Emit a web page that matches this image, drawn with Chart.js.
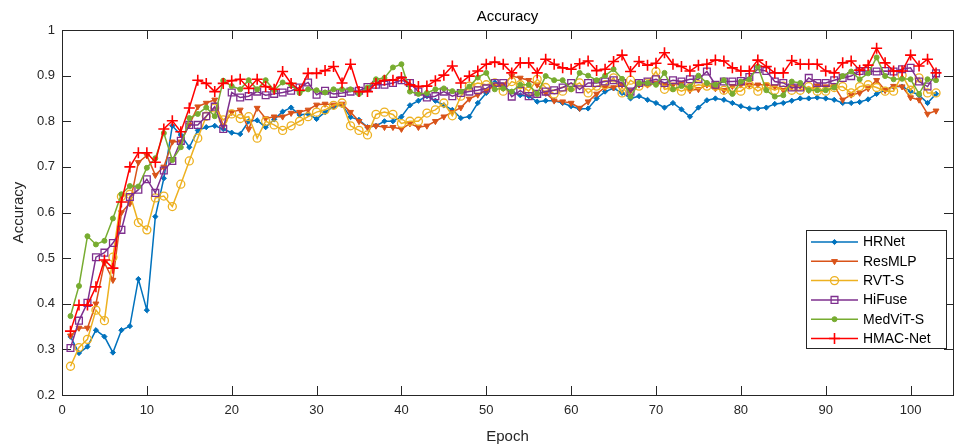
<!DOCTYPE html>
<html><head><meta charset="utf-8">
<script src="https://cdn.jsdelivr.net/npm/chart.js@4/dist/chart.umd.min.js"></script>
<style>html,body{margin:0;padding:0;background:#fff}#wrap{width:964px;height:445px}</style>
</head><body><div id="wrap"><canvas id="c" width="964" height="445"></canvas></div>
<script>
const seriesNames = ['HRNet','ResMLP','RVT-S','HiFuse','MedViT-S','HMAC-Net'];
const epochs = Array.from({length:103},(_, i)=>i+1);
const xTicks = [0,10,20,30,40,50,60,70,80,90,100];
const yTicks = [0.2,0.3,0.4,0.5,0.6,0.7,0.8,0.9,1];

const hrnet = [0.328,0.292,0.306,0.342,0.328,0.293,0.342,0.351,0.454,0.386,
0.591,0.675,0.790,0.770,0.743,0.780,0.787,0.790,0.783,0.775,
0.772,0.800,0.802,0.787,0.804,0.821,0.830,0.814,0.816,0.805,
0.820,0.832,0.836,0.809,0.803,0.787,0.790,0.800,0.800,0.810,
0.835,0.845,0.855,0.845,0.835,0.825,0.807,0.810,0.840,0.862,
0.885,0.875,0.865,0.857,0.855,0.843,0.845,0.845,0.840,0.833,
0.827,0.828,0.850,0.865,0.872,0.862,0.850,0.855,0.847,0.840,
0.830,0.840,0.826,0.810,0.830,0.846,0.850,0.847,0.840,0.833,
0.828,0.828,0.830,0.838,0.840,0.845,0.850,0.850,0.852,0.850,
0.847,0.840,0.840,0.842,0.848,0.860,0.868,0.876,0.876,0.866,
0.857,0.840,0.860];
const resmlp = [0.330,0.347,0.347,0.400,0.490,0.452,0.600,0.620,0.710,0.725,
0.682,0.700,0.755,0.755,0.792,0.832,0.840,0.847,0.790,0.820,
0.825,0.783,0.829,0.806,0.810,0.810,0.818,0.820,0.825,0.836,
0.838,0.836,0.838,0.820,0.800,0.787,0.790,0.787,0.787,0.783,
0.795,0.787,0.790,0.800,0.810,0.820,0.830,0.849,0.858,0.868,
0.877,0.880,0.899,0.895,0.890,0.880,0.862,0.845,0.843,0.840,
0.829,0.843,0.860,0.874,0.874,0.880,0.867,0.880,0.880,0.884,
0.880,0.880,0.884,0.868,0.870,0.880,0.872,0.868,0.877,0.880,
0.880,0.880,0.880,0.876,0.868,0.876,0.877,0.868,0.878,0.876,
0.877,0.847,0.858,0.862,0.872,0.890,0.868,0.877,0.876,0.852,
0.847,0.816,0.823];
const rvts = [0.263,0.304,0.322,0.386,0.363,0.502,0.635,0.640,0.578,0.562,
0.632,0.636,0.613,0.662,0.713,0.763,0.811,0.829,0.803,0.816,
0.806,0.810,0.763,0.800,0.792,0.780,0.790,0.800,0.810,0.820,
0.825,0.835,0.840,0.790,0.780,0.770,0.815,0.820,0.815,0.795,
0.800,0.800,0.818,0.825,0.840,0.812,0.855,0.877,0.884,0.880,
0.884,0.866,0.887,0.880,0.866,0.892,0.874,0.860,0.866,0.874,
0.884,0.862,0.877,0.880,0.895,0.862,0.890,0.877,0.884,0.909,
0.870,0.874,0.866,0.874,0.880,0.877,0.877,0.868,0.866,0.866,
0.880,0.866,0.876,0.868,0.877,0.868,0.868,0.876,0.866,0.866,
0.874,0.876,0.862,0.876,0.880,0.874,0.866,0.866,0.901,0.868,
0.895,0.862,0.862];
const hifuse = [0.303,0.363,0.402,0.502,0.512,0.533,0.562,0.634,0.650,0.673,
0.643,0.692,0.713,0.757,0.792,0.792,0.811,0.832,0.783,0.863,
0.852,0.855,0.865,0.857,0.860,0.863,0.867,0.874,0.885,0.858,
0.867,0.860,0.862,0.865,0.867,0.875,0.880,0.880,0.884,0.890,
0.884,0.865,0.852,0.855,0.865,0.855,0.862,0.865,0.868,0.872,
0.884,0.884,0.854,0.867,0.855,0.860,0.865,0.868,0.874,0.884,
0.870,0.884,0.884,0.887,0.890,0.884,0.865,0.884,0.887,0.892,
0.884,0.890,0.887,0.892,0.892,0.909,0.880,0.887,0.887,0.888,
0.897,0.914,0.910,0.887,0.884,0.874,0.874,0.895,0.884,0.884,
0.890,0.895,0.899,0.910,0.910,0.909,0.910,0.909,0.914,0.917,
0.887,0.876,0.905];
const medvit = [0.373,0.439,0.548,0.530,0.538,0.587,0.640,0.658,0.657,0.698,
0.719,0.774,0.715,0.743,0.807,0.816,0.830,0.811,0.889,0.877,
0.870,0.890,0.870,0.890,0.868,0.885,0.880,0.862,0.870,0.868,
0.863,0.870,0.870,0.870,0.860,0.874,0.892,0.895,0.918,0.925,
0.865,0.860,0.862,0.870,0.872,0.866,0.865,0.876,0.896,0.906,
0.870,0.872,0.865,0.880,0.880,0.860,0.899,0.890,0.890,0.870,
0.906,0.900,0.890,0.900,0.914,0.893,0.854,0.884,0.884,0.880,
0.906,0.870,0.877,0.875,0.900,0.884,0.880,0.890,0.860,0.887,
0.892,0.920,0.868,0.854,0.857,0.887,0.884,0.868,0.868,0.868,
0.874,0.899,0.909,0.892,0.905,0.940,0.899,0.892,0.893,0.892,
0.860,0.892,0.890];
const hmacnet = [0.340,0.397,0.397,0.437,0.496,0.478,0.623,0.700,0.731,0.731,
0.710,0.783,0.801,0.777,0.829,0.890,0.883,0.865,0.883,0.889,
0.892,0.872,0.892,0.876,0.870,0.909,0.883,0.868,0.905,0.905,
0.911,0.920,0.884,0.925,0.865,0.865,0.883,0.890,0.890,0.896,
0.880,0.876,0.877,0.889,0.901,0.921,0.884,0.899,0.910,0.925,
0.930,0.925,0.906,0.928,0.928,0.906,0.936,0.925,0.917,0.914,
0.926,0.932,0.911,0.914,0.931,0.945,0.909,0.931,0.923,0.927,
0.950,0.925,0.920,0.910,0.923,0.925,0.934,0.932,0.917,0.910,
0.910,0.934,0.920,0.906,0.906,0.933,0.925,0.925,0.925,0.910,
0.906,0.928,0.932,0.912,0.923,0.960,0.928,0.910,0.910,0.945,
0.921,0.936,0.906];

const seriesValues = [hrnet, resmlp, rvts, hifuse, medvit, hmacnet];
const styles = [
  {color:'#0072BD', pointStyle:'rectRot', radius:2.6, fill:true, rotation:0, bw:1},
  {color:'#D95319', pointStyle:'triangle', radius:3.4, fill:true, rotation:180, bw:1},
  {color:'#EDB120', pointStyle:'circle', radius:4, fill:false, rotation:0, bw:1.3},
  {color:'#7E2F8E', pointStyle:'rect', radius:4.8, fill:false, rotation:0, bw:1.3},
  {color:'#77AC30', pointStyle:'circle', radius:2.5, fill:true, rotation:0, bw:1},
  {color:'#FF0000', pointStyle:'cross', radius:5.5, fill:false, rotation:0, bw:1.6}
];
const AX = '#262626';
const FONT = "'Liberation Sans', Arial, sans-serif";

const datasets = seriesNames.map((name, i) => ({
  label: name,
  data: epochs.map((e, j) => ({x: e, y: seriesValues[i][j]})),
  borderColor: styles[i].color,
  backgroundColor: styles[i].fill ? styles[i].color : 'rgba(0,0,0,0)',
  borderWidth: 1.5,
  pointStyle: styles[i].pointStyle,
  pointRadius: styles[i].radius,
  pointRotation: styles[i].rotation,
  pointBorderWidth: styles[i].bw,
  pointBorderColor: styles[i].color,
  pointBackgroundColor: styles[i].fill ? styles[i].color : 'rgba(0,0,0,0)',
  tension: 0,
  order: seriesNames.length - i
}));

const framePlugin = {
  id: 'frame',
  beforeDatasetsDraw(chart) {
    const {ctx, chartArea: a, scales} = chart;
    ctx.save();
    ctx.strokeStyle = AX; ctx.lineWidth = 1;
    const TL = 9;
    ctx.beginPath();
    xTicks.forEach(v => {
      const x = Math.round(scales.x.getPixelForValue(v)) + 0.5;
      ctx.moveTo(x, a.bottom); ctx.lineTo(x, a.bottom - TL);
      ctx.moveTo(x, a.top); ctx.lineTo(x, a.top + TL);
    });
    yTicks.forEach(v => {
      const y = Math.round(scales.y.getPixelForValue(v)) + 0.5;
      ctx.moveTo(a.left, y); ctx.lineTo(a.left + TL, y);
      ctx.moveTo(a.right, y); ctx.lineTo(a.right - TL, y);
    });
    ctx.stroke();
    ctx.strokeRect(Math.round(a.left) + 0.5, Math.round(a.top) + 0.5, Math.round(a.right - a.left), Math.round(a.bottom - a.top));
    ctx.fillStyle = '#000';
    ctx.font = '15px ' + FONT;
    ctx.textAlign = 'center'; ctx.textBaseline = 'middle';
    ctx.fillText('Accuracy', (a.left + a.right) / 2, 17);
    ctx.restore();
  },
  afterDraw(chart) {
    const {ctx} = chart;
    ctx.save();
    const bx = 806.5, by = 230.5, bw = 140, bh = 118;
    ctx.fillStyle = '#fff';
    ctx.fillRect(bx, by, bw, bh);
    ctx.strokeStyle = AX; ctx.lineWidth = 1;
    ctx.strokeRect(bx, by, bw, bh);
    seriesNames.forEach((name, i) => {
      const y = 242 + i * 19.3;
      const s = styles[i];
      ctx.strokeStyle = s.color; ctx.lineWidth = 1.5;
      ctx.beginPath(); ctx.moveTo(811, y); ctx.lineTo(858, y); ctx.stroke();
      ctx.fillStyle = s.fill ? s.color : 'rgba(0,0,0,0)';
      ctx.lineWidth = s.bw;
      Chart.helpers.drawPoint(ctx, {pointStyle: s.pointStyle, radius: s.radius, rotation: s.rotation, borderWidth: s.bw}, 834.5, y);
      ctx.fillStyle = '#000';
      ctx.font = '14px ' + FONT;
      ctx.textAlign = 'left'; ctx.textBaseline = 'middle';
      ctx.fillText(name, 863, y + 0.5);
    });
    ctx.restore();
  }
};

new Chart(document.getElementById('c'), {
  type: 'line',
  data: {datasets},
  options: {
    responsive: false,
    devicePixelRatio: 1,
    animation: false,
    layout: {padding: {top: 30, right: 11, left: 0, bottom: 0}},
    plugins: {legend: {display: false}, tooltip: {enabled: false}, title: {display: false}},
    scales: {
      x: {
        type: 'linear', min: 0, max: 105,
        afterBuildTicks: s => { s.ticks = xTicks.map(v => ({value: v})); },
        ticks: {color: AX, font: {size: 13, family: FONT}, padding: 8, maxRotation: 0, autoSkip: false},
        grid: {display: false, drawTicks: false},
        border: {display: false},
        title: {display: true, text: 'Epoch', color: AX, font: {size: 15, family: FONT}, padding: {top: 0, bottom: -1}},
        afterFit: s => { s.height = 50; }
      },
      y: {
        min: 0.2, max: 1,
        afterBuildTicks: s => { s.ticks = yTicks.map(v => ({value: v})); },
        ticks: {color: AX, font: {size: 13, family: FONT}, padding: 7, callback: v => String(Number(v.toFixed(1)))},
        grid: {display: false, drawTicks: false},
        border: {display: false},
        title: {display: true, text: 'Accuracy', color: AX, font: {size: 15, family: FONT}, padding: {top: 10, bottom: 0}},
        afterFit: s => { s.width = 62; }
      }
    }
  },
  plugins: [framePlugin]
});
</script></body></html>
